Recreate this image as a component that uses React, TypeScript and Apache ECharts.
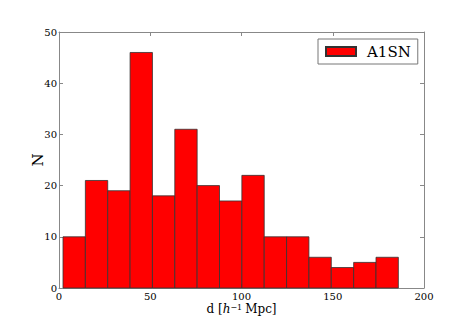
import React, { useEffect, useRef } from "react";
import * as echarts from "echarts";

const binEdges = [2.2, 14.45, 26.7, 38.95, 51.2, 63.45, 75.7, 87.95, 100.2, 112.45, 124.7, 136.95, 149.2, 161.45, 173.7, 185.95];
const counts = [10, 21, 19, 46, 18, 31, 20, 17, 22, 10, 10, 6, 4, 5, 6];
const seriesName = "A1SN";

const FONT = "DejaVu Serif";

export default function App() {
  const ref = useRef<HTMLDivElement>(null);
  useEffect(() => {
    const chart = echarts.init(ref.current!, null, { renderer: "svg" });
    const data = counts.map((c, i) => [binEdges[i], binEdges[i + 1], c]);
    const axisLine = { show: true, onZero: false, lineStyle: { color: "#888", width: 1 } };
    const tick = { show: true, inside: true, length: 4, lineStyle: { color: "#888" } };
    chart.setOption({
      animation: false,
      backgroundColor: "#fff",
      grid: { left: 59, right: 47, top: 32, bottom: 33, outerBoundsMode: "none", containLabel: false },
      legend: {
        show: true,
        data: [{ name: seriesName, icon: "rect" }],
        left: 318,
        top: 39,
        itemWidth: 30,
        itemHeight: 9,
        itemGap: 5,
        padding: [5, 7, 5, 7],
        borderColor: "#777",
        borderWidth: 1,
        borderRadius: 0,
        textStyle: { fontFamily: FONT, fontSize: 15, color: "#000", padding: [0, 0, 0, 6] },
      },
      xAxis: [
        {
          type: "value",
          min: 0,
          max: 200,
          interval: 50,
          position: "bottom",
          axisLine,
          axisTick: tick,
          splitLine: { show: false },
          axisLabel: { fontFamily: FONT, fontSize: 10, color: "#000", margin: 3 },
          name: "d [{i|h}{s|−1}Mpc]",
          nameLocation: "middle",
          nameGap: 15,
          nameMoveOverlap: false,
          nameTextStyle: {
            fontFamily: FONT,
            fontSize: 12,
            color: "#000",
            verticalAlign: "top",
            rich: {
              i: { fontFamily: FONT, fontStyle: "italic", fontSize: 12, color: "#000" },
              s: { fontFamily: FONT, fontSize: 8, color: "#000", verticalAlign: "top", padding: [0, 3, 3, 0] },
            },
          },
        },
        {
          type: "value",
          min: 0,
          max: 200,
          interval: 50,
          position: "top",
          axisLine,
          axisTick: tick,
          splitLine: { show: false },
          axisLabel: { show: false },
        },
      ],
      yAxis: [
        {
          type: "value",
          min: 0,
          max: 50,
          interval: 10,
          position: "left",
          axisLine,
          axisTick: tick,
          splitLine: { show: false },
          axisLabel: { fontFamily: FONT, fontSize: 10, color: "#000", margin: 2 },
          name: "N",
          nameLocation: "middle",
          nameGap: 14,
          nameMoveOverlap: false,
          nameRotate: 90,
          nameTextStyle: { fontFamily: FONT, fontSize: 15, color: "#000" },
        },
        {
          type: "value",
          min: 0,
          max: 50,
          interval: 10,
          position: "right",
          axisLine,
          axisTick: tick,
          splitLine: { show: false },
          axisLabel: { show: false },
        },
      ],
      series: [
        {
          name: seriesName,
          type: "custom",
          xAxisIndex: 0,
          yAxisIndex: 0,
          itemStyle: { color: "#ff0000", borderColor: "#333", borderWidth: 0.8 },
          encode: { x: [0, 1], y: 2 },
          data,
          renderItem: (params: any, api: any) => {
            const p0 = api.coord([api.value(0), api.value(2)]);
            const p1 = api.coord([api.value(1), 0]);
            return {
              type: "rect",
              shape: { x: p0[0], y: p0[1], width: p1[0] - p0[0], height: p1[1] - p0[1] },
              style: { fill: "#ff0000", stroke: "#333", lineWidth: 0.8 },
            };
          },
        },
      ],
    });
    return () => chart.dispose();
  }, []);
  return <div ref={ref} style={{ width: 471, height: 321, position: "absolute", left: 0, top: 0 }} />;
}
